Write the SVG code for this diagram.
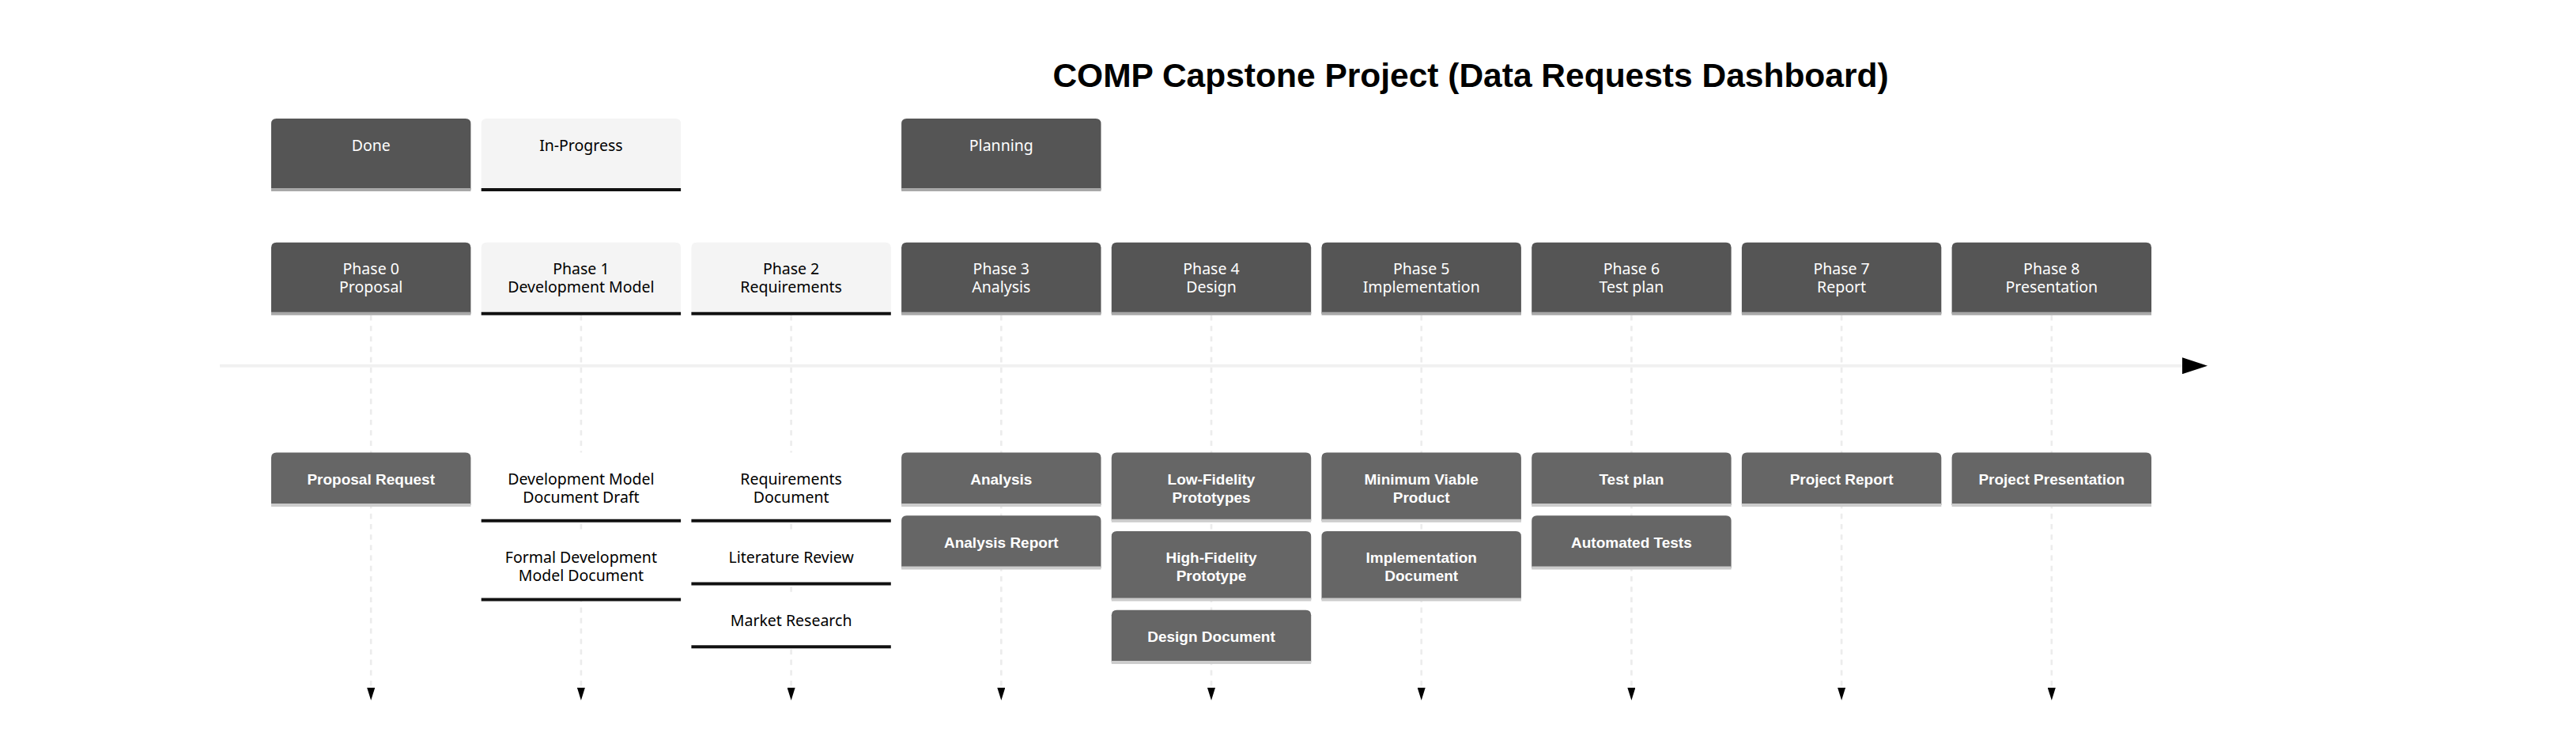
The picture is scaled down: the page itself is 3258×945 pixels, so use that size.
<svg xmlns="http://www.w3.org/2000/svg" xmlns:xlink="http://www.w3.org/1999/xlink" width="3258" height="945" viewBox="0 0 3258 945">
<style>
.bg{fill:#ffffff}
.dk{fill:#555555}
.lt{fill:#f4f4f4}
.tdk{fill:#666666}
.tlt{fill:#ffffff}
.sdk{stroke:#a8a8a8;stroke-width:4}
.slt{stroke:#111111;stroke-width:4}
.stk{stroke:#cccccc;stroke-width:4}
.title{font-family:"Liberation Sans",Arial,sans-serif;font-weight:bold;font-size:42.5px;fill:#000;text-anchor:middle}
.tw{font-family:"Noto Sans","Liberation Sans",sans-serif;font-size:19.5px;fill:#ffffff;text-anchor:middle}
.tb{font-family:"Noto Sans","Liberation Sans",sans-serif;font-size:19.5px;fill:#000000;text-anchor:middle}
.tbold{font-family:"Liberation Sans",Arial,sans-serif;font-weight:bold;font-size:19px;fill:#ffffff;text-anchor:middle}
.axis{stroke:#f1f1f1;stroke-width:4;fill:none}
.dash{stroke:#ececec;stroke-width:2.6;stroke-dasharray:6.6 6.6;fill:none}
</style>
<defs>
<path id="h90" d="M0 90 v-83.4 q0 -6.6 6.6 -6.6 h239.2 q6.6 0 6.6 6.6 v83.4 z"/>
<path id="h66" d="M0 66.4 v-59.8 q0 -6.6 6.6 -6.6 h239.2 q6.6 0 6.6 6.6 v59.8 z"/>
<path id="h86" d="M0 86.3 v-79.7 q0 -6.6 6.6 -6.6 h239.2 q6.6 0 6.6 6.6 v79.7 z"/>
<marker id="arrR" viewBox="0 0 32 21" refX="0" refY="10.5" markerWidth="32" markerHeight="21" markerUnits="userSpaceOnUse" orient="auto">
<path d="M0 0 L32 10.5 L0 21 z" fill="#000" stroke="none"/>
</marker>
<marker id="arrD" viewBox="0 0 16 10" refX="0" refY="5" markerWidth="16" markerHeight="10" markerUnits="userSpaceOnUse" orient="auto">
<path d="M0 0 L16 5 L0 10 z" fill="#000" stroke="none"/>
</marker>
</defs>
<rect class="bg" x="0" y="0" width="3258" height="945"/>
<text class="title" x="1860" y="110">COMP Capstone Project (Data Requests Dashboard)</text>

<g id="connectors">
<line class="axis" x1="278" y1="462.7" x2="2760" y2="462.7" marker-end="url(#arrR)"/>
<line class="dash" x1="469.2" y1="399" x2="469.2" y2="870" marker-end="url(#arrD)"/>
<line class="dash" x1="734.9" y1="399" x2="734.9" y2="870" marker-end="url(#arrD)"/>
<line class="dash" x1="1000.6" y1="399" x2="1000.6" y2="870" marker-end="url(#arrD)"/>
<line class="dash" x1="1266.3" y1="399" x2="1266.3" y2="870" marker-end="url(#arrD)"/>
<line class="dash" x1="1532" y1="399" x2="1532" y2="870" marker-end="url(#arrD)"/>
<line class="dash" x1="1797.7" y1="399" x2="1797.7" y2="870" marker-end="url(#arrD)"/>
<line class="dash" x1="2063.4" y1="399" x2="2063.4" y2="870" marker-end="url(#arrD)"/>
<line class="dash" x1="2329.1" y1="399" x2="2329.1" y2="870" marker-end="url(#arrD)"/>
<line class="dash" x1="2594.8" y1="399" x2="2594.8" y2="870" marker-end="url(#arrD)"/>
</g>

<!-- Sections -->
<g id="section-done">
<use xlink:href="#h90" x="343" y="150" class="dk"/>
<line class="sdk" x1="343" y1="240" x2="595.4" y2="240"/>
<text class="tw" x="469.2" y="191">Done</text>
</g>
<g id="section-inprogress">
<use xlink:href="#h90" x="608.7" y="150" class="lt"/>
<line class="slt" x1="608.7" y1="240" x2="861.1" y2="240"/>
<text class="tb" x="734.9" y="191">In-Progress</text>
</g>
<g id="section-planning">
<use xlink:href="#h90" x="1140.1" y="150" class="dk"/>
<line class="sdk" x1="1140.1" y1="240" x2="1392.5" y2="240"/>
<text class="tw" x="1266.3" y="191">Planning</text>
</g>

<!-- Phases -->
<g id="phase0">
<use xlink:href="#h90" x="343" y="306.7" class="dk"/>
<line class="sdk" x1="343" y1="396.7" x2="595.4" y2="396.7"/>
<text class="tw" x="469.2" y="346.8">Phase 0</text>
<text class="tw" x="469.2" y="369.8">Proposal</text>
</g>
<g id="phase1">
<use xlink:href="#h90" x="608.7" y="306.7" class="lt"/>
<line class="slt" x1="608.7" y1="396.7" x2="861.1" y2="396.7"/>
<text class="tb" x="734.9" y="346.8">Phase 1</text>
<text class="tb" x="734.9" y="369.8">Development Model</text>
</g>
<g id="phase2">
<use xlink:href="#h90" x="874.4" y="306.7" class="lt"/>
<line class="slt" x1="874.4" y1="396.7" x2="1126.8" y2="396.7"/>
<text class="tb" x="1000.6" y="346.8">Phase 2</text>
<text class="tb" x="1000.6" y="369.8">Requirements</text>
</g>
<g id="phase3">
<use xlink:href="#h90" x="1140.1" y="306.7" class="dk"/>
<line class="sdk" x1="1140.1" y1="396.7" x2="1392.5" y2="396.7"/>
<text class="tw" x="1266.3" y="346.8">Phase 3</text>
<text class="tw" x="1266.3" y="369.8">Analysis</text>
</g>
<g id="phase4">
<use xlink:href="#h90" x="1405.8" y="306.7" class="dk"/>
<line class="sdk" x1="1405.8" y1="396.7" x2="1658.2" y2="396.7"/>
<text class="tw" x="1532" y="346.8">Phase 4</text>
<text class="tw" x="1532" y="369.8">Design</text>
</g>
<g id="phase5">
<use xlink:href="#h90" x="1671.5" y="306.7" class="dk"/>
<line class="sdk" x1="1671.5" y1="396.7" x2="1923.9" y2="396.7"/>
<text class="tw" x="1797.7" y="346.8">Phase 5</text>
<text class="tw" x="1797.7" y="369.8">Implementation</text>
</g>
<g id="phase6">
<use xlink:href="#h90" x="1937.2" y="306.7" class="dk"/>
<line class="sdk" x1="1937.2" y1="396.7" x2="2189.6" y2="396.7"/>
<text class="tw" x="2063.4" y="346.8">Phase 6</text>
<text class="tw" x="2063.4" y="369.8">Test plan</text>
</g>
<g id="phase7">
<use xlink:href="#h90" x="2202.9" y="306.7" class="dk"/>
<line class="sdk" x1="2202.9" y1="396.7" x2="2455.3" y2="396.7"/>
<text class="tw" x="2329.1" y="346.8">Phase 7</text>
<text class="tw" x="2329.1" y="369.8">Report</text>
</g>
<g id="phase8">
<use xlink:href="#h90" x="2468.6" y="306.7" class="dk"/>
<line class="sdk" x1="2468.6" y1="396.7" x2="2721" y2="396.7"/>
<text class="tw" x="2594.8" y="346.8">Phase 8</text>
<text class="tw" x="2594.8" y="369.8">Presentation</text>
</g>

<!-- Events -->
<g id="ev-proposal-request">
<use xlink:href="#h66" x="343" y="572.5" class="tdk"/>
<line class="stk" x1="343" y1="638.9" x2="595.4" y2="638.9"/>
<text class="tbold" x="469.2" y="612.8">Proposal Request</text>
</g>

<g id="ev-devmodel-draft">
<use xlink:href="#h86" x="608.7" y="572.5" class="tlt"/>
<line class="slt" x1="608.7" y1="658.8" x2="861.1" y2="658.8"/>
<text class="tb" x="734.9" y="612.8">Development Model</text>
<text class="tb" x="734.9" y="635.5">Document Draft</text>
</g>
<g id="ev-formal-devmodel">
<use xlink:href="#h86" x="608.7" y="672.1" class="tlt"/>
<line class="slt" x1="608.7" y1="758.4" x2="861.1" y2="758.4"/>
<text class="tb" x="734.9" y="712.4">Formal Development</text>
<text class="tb" x="734.9" y="735.1">Model Document</text>
</g>

<g id="ev-requirements-doc">
<use xlink:href="#h86" x="874.4" y="572.5" class="tlt"/>
<line class="slt" x1="874.4" y1="658.8" x2="1126.8" y2="658.8"/>
<text class="tb" x="1000.6" y="612.8">Requirements</text>
<text class="tb" x="1000.6" y="635.5">Document</text>
</g>
<g id="ev-literature-review">
<use xlink:href="#h66" x="874.4" y="672.1" class="tlt"/>
<line class="slt" x1="874.4" y1="738.5" x2="1126.8" y2="738.5"/>
<text class="tb" x="1000.6" y="712.4">Literature Review</text>
</g>
<g id="ev-market-research">
<use xlink:href="#h66" x="874.4" y="751.8" class="tlt"/>
<line class="slt" x1="874.4" y1="818.2" x2="1126.8" y2="818.2"/>
<text class="tb" x="1000.6" y="792.1">Market Research</text>
</g>

<g id="ev-analysis">
<use xlink:href="#h66" x="1140.1" y="572.5" class="tdk"/>
<line class="stk" x1="1140.1" y1="638.9" x2="1392.5" y2="638.9"/>
<text class="tbold" x="1266.3" y="612.8">Analysis</text>
</g>
<g id="ev-analysis-report">
<use xlink:href="#h66" x="1140.1" y="652.2" class="tdk"/>
<line class="stk" x1="1140.1" y1="718.6" x2="1392.5" y2="718.6"/>
<text class="tbold" x="1266.3" y="692.5">Analysis Report</text>
</g>

<g id="ev-lofi">
<use xlink:href="#h86" x="1405.8" y="572.5" class="tdk"/>
<line class="stk" x1="1405.8" y1="658.8" x2="1658.2" y2="658.8"/>
<text class="tbold" x="1532" y="612.8">Low-Fidelity</text>
<text class="tbold" x="1532" y="635.5">Prototypes</text>
</g>
<g id="ev-hifi">
<use xlink:href="#h86" x="1405.8" y="672.1" class="tdk"/>
<line class="stk" x1="1405.8" y1="758.4" x2="1658.2" y2="758.4"/>
<text class="tbold" x="1532" y="712.4">High-Fidelity</text>
<text class="tbold" x="1532" y="735.1">Prototype</text>
</g>
<g id="ev-design-doc">
<use xlink:href="#h66" x="1405.8" y="771.7" class="tdk"/>
<line class="stk" x1="1405.8" y1="838.1" x2="1658.2" y2="838.1"/>
<text class="tbold" x="1532" y="812">Design Document</text>
</g>

<g id="ev-mvp">
<use xlink:href="#h86" x="1671.5" y="572.5" class="tdk"/>
<line class="stk" x1="1671.5" y1="658.8" x2="1923.9" y2="658.8"/>
<text class="tbold" x="1797.7" y="612.8">Minimum Viable</text>
<text class="tbold" x="1797.7" y="635.5">Product</text>
</g>
<g id="ev-impl-doc">
<use xlink:href="#h86" x="1671.5" y="672.1" class="tdk"/>
<line class="stk" x1="1671.5" y1="758.4" x2="1923.9" y2="758.4"/>
<text class="tbold" x="1797.7" y="712.4">Implementation</text>
<text class="tbold" x="1797.7" y="735.1">Document</text>
</g>

<g id="ev-test-plan">
<use xlink:href="#h66" x="1937.2" y="572.5" class="tdk"/>
<line class="stk" x1="1937.2" y1="638.9" x2="2189.6" y2="638.9"/>
<text class="tbold" x="2063.4" y="612.8">Test plan</text>
</g>
<g id="ev-automated-tests">
<use xlink:href="#h66" x="1937.2" y="652.2" class="tdk"/>
<line class="stk" x1="1937.2" y1="718.6" x2="2189.6" y2="718.6"/>
<text class="tbold" x="2063.4" y="692.5">Automated Tests</text>
</g>

<g id="ev-project-report">
<use xlink:href="#h66" x="2202.9" y="572.5" class="tdk"/>
<line class="stk" x1="2202.9" y1="638.9" x2="2455.3" y2="638.9"/>
<text class="tbold" x="2329.1" y="612.8">Project Report</text>
</g>

<g id="ev-project-presentation">
<use xlink:href="#h66" x="2468.6" y="572.5" class="tdk"/>
<line class="stk" x1="2468.6" y1="638.9" x2="2721" y2="638.9"/>
<text class="tbold" x="2594.8" y="612.8">Project Presentation</text>
</g>
</svg>
